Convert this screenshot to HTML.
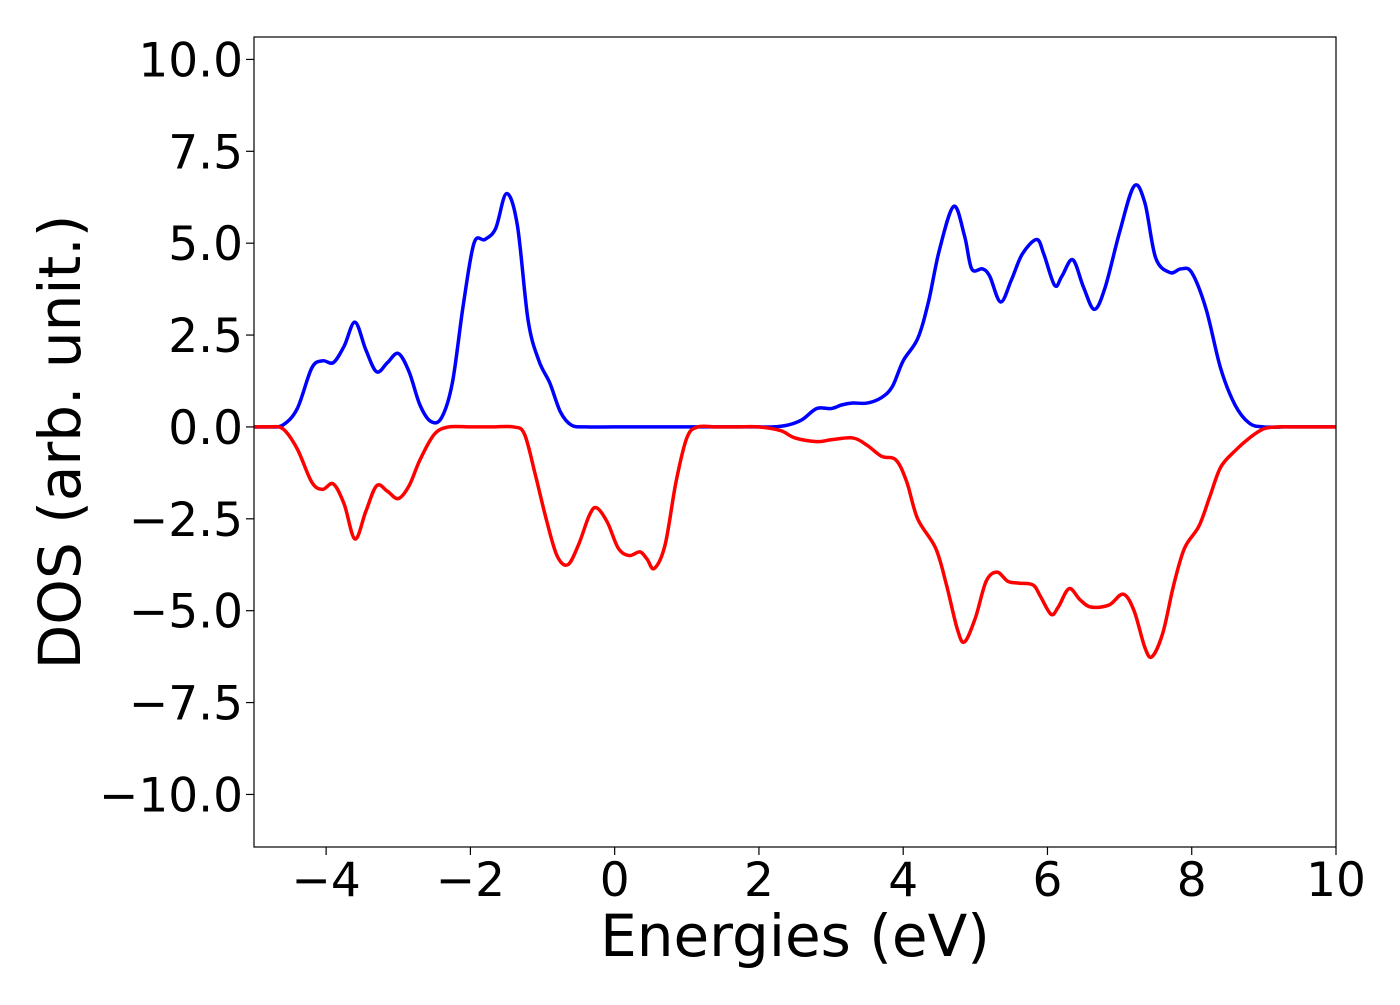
<!DOCTYPE html>
<html><head><meta charset="utf-8"><style>
body{margin:0;background:#fff;}
svg text{font-family:"DejaVu Sans","Liberation Sans",sans-serif;fill:#000;}
</style></head><body>
<svg id="chart" width="1400" height="1000" xmlns="http://www.w3.org/2000/svg">
<rect x="0" y="0" width="1400" height="1000" fill="#fff"/>
<g id="ticks"></g>
<g id="series"></g>
<rect x="254" y="37" width="1082" height="810" fill="none" stroke="#000" stroke-width="1.2"/>
<text x="795" y="956" font-size="58" text-anchor="middle">Energies (eV)</text>
<text transform="translate(80,442) rotate(-90)" font-size="58" text-anchor="middle">DOS (arb. unit.)</text>
</svg>
<script>
const xTicks=[-4,-2,0,2,4,6,8,10];
const yTicks=[-10,-7.5,-5,-2.5,0,2.5,5,7.5,10];
const upE=[-5,-4.8,-4.6,-4.4,-4.2,-4.05,-3.9,-3.75,-3.6,-3.45,-3.3,-3.15,-3.0,-2.85,-2.7,-2.55,-2.4,-2.25,-2.1,-1.95,-1.8,-1.65,-1.5,-1.35,-1.2,-1.05,-0.9,-0.75,-0.6,-0.4,0,0.5,1,1.5,2.0,2.2,2.4,2.6,2.8,3.0,3.15,3.3,3.5,3.7,3.85,4.0,4.2,4.35,4.5,4.7,4.85,4.95,5.1,5.2,5.35,5.5,5.65,5.85,5.95,6.1,6.2,6.35,6.5,6.65,6.8,7.0,7.2,7.35,7.5,7.7,7.85,8.0,8.2,8.4,8.6,8.8,9.0,9.3,9.6,10];
const upDOS=[0,0,0.05,0.5,1.6,1.8,1.75,2.2,2.85,2.1,1.5,1.75,2.0,1.5,0.6,0.15,0.25,1.2,3.3,5.0,5.1,5.4,6.35,5.5,2.9,1.8,1.2,0.4,0.05,0,0,0,0,0,0,0,0.05,0.2,0.5,0.5,0.6,0.65,0.65,0.8,1.1,1.8,2.4,3.4,4.8,6.0,5.2,4.3,4.3,4.1,3.4,4.0,4.7,5.1,4.7,3.85,4.1,4.55,3.8,3.2,3.8,5.3,6.55,6.1,4.6,4.2,4.3,4.2,3.2,1.6,0.6,0.1,0,0,0,0];
const dnE=[-5,-4.8,-4.6,-4.4,-4.2,-4.05,-3.9,-3.75,-3.6,-3.45,-3.3,-3.15,-3.0,-2.85,-2.7,-2.5,-2.3,-2.0,-1.7,-1.4,-1.25,-1.1,-0.95,-0.8,-0.65,-0.5,-0.35,-0.25,-0.1,0.05,0.2,0.35,0.45,0.55,0.7,0.85,1.0,1.15,1.4,1.7,2.0,2.3,2.5,2.8,3.0,3.3,3.5,3.7,3.9,4.05,4.2,4.45,4.6,4.75,4.85,5.0,5.15,5.3,5.45,5.6,5.8,5.9,6.05,6.15,6.3,6.45,6.6,6.85,7.05,7.2,7.35,7.45,7.6,7.75,7.9,8.1,8.25,8.4,8.6,8.8,9.0,9.2,9.5,10];
const dnDOS=[0,0,-0.05,-0.6,-1.5,-1.7,-1.55,-2.1,-3.05,-2.3,-1.6,-1.75,-1.95,-1.6,-0.9,-0.2,0,0,0,0,-0.2,-1.3,-2.5,-3.5,-3.75,-3.2,-2.4,-2.2,-2.6,-3.3,-3.5,-3.4,-3.6,-3.85,-3.2,-1.5,-0.3,0,0,0,0,-0.1,-0.3,-0.4,-0.35,-0.3,-0.5,-0.8,-0.9,-1.5,-2.5,-3.3,-4.3,-5.5,-5.85,-5.2,-4.2,-3.95,-4.2,-4.25,-4.3,-4.6,-5.1,-4.9,-4.4,-4.7,-4.9,-4.85,-4.55,-5.0,-6.0,-6.25,-5.6,-4.3,-3.3,-2.7,-1.9,-1.1,-0.65,-0.3,-0.05,0,0,0];
const NS='http://www.w3.org/2000/svg';
const X0=254,X1=1336,Y0=37,Y1=847,xmin=-5,xmax=10,ymin=-11.43,ymax=10.61;
const sx=v=>X0+(v-xmin)/(xmax-xmin)*(X1-X0);
const sy=v=>Y1-(v-ymin)/(ymax-ymin)*(Y1-Y0);
const tg=document.getElementById('ticks');
function mk(t,a,p){const e=document.createElementNS(NS,t);for(const k in a)e.setAttribute(k,a[k]);p.appendChild(e);return e;}
const fmtX=v=>(v<0?'\u2212':'')+Math.abs(v);
const fmtY=v=>(v<0?'\u2212':'')+Math.abs(v).toFixed(1);
xTicks.forEach(v=>{
  const l=mk('line',{x1:sx(v),x2:sx(v),y1:Y1,y2:Y1+8,stroke:'#000','stroke-width':1.2},tg);
  
  
  const t=mk('text',{x:sx(v),y:Y1+49,'font-size':47,'text-anchor':'middle'},tg);
  
  
  t.textContent=fmtX(v);
});
yTicks.forEach(v=>{
  const l=mk('line',{x1:X0-8,x2:X0,y1:sy(v),y2:sy(v),stroke:'#000','stroke-width':1.2},tg);
  
  
  const t=mk('text',{x:X0-11,y:sy(v)+17,'font-size':47,'text-anchor':'end'},tg);
  
  
  t.textContent=fmtY(v);
});
function path(xs,ys){
  const P=xs.map((x,i)=>[sx(x),sy(ys[i])]);
  let d='M'+P[0][0]+','+P[0][1];
  for(let i=0;i<P.length-1;i++){
    const p0=P[Math.max(i-1,0)],p1=P[i],p2=P[i+1],p3=P[Math.min(i+2,P.length-1)];
    const c1=[p1[0]+(p2[0]-p0[0])/6,p1[1]+(p2[1]-p0[1])/6];
    const c2=[p2[0]-(p3[0]-p1[0])/6,p2[1]-(p3[1]-p1[1])/6];
    d+=` C${c1[0]},${c1[1]} ${c2[0]},${c2[1]} ${p2[0]},${p2[1]}`;
  }
  return d;
}
const sg=document.getElementById('series');
const up=mk('path',{d:path(upE,upDOS),fill:'none',stroke:'#0000ff','stroke-width':3.5,'stroke-linejoin':'round'},sg);


const dn=mk('path',{d:path(dnE,dnDOS),fill:'none',stroke:'#ff0000','stroke-width':3.5,'stroke-linejoin':'round'},sg);


</script>
</body></html>
